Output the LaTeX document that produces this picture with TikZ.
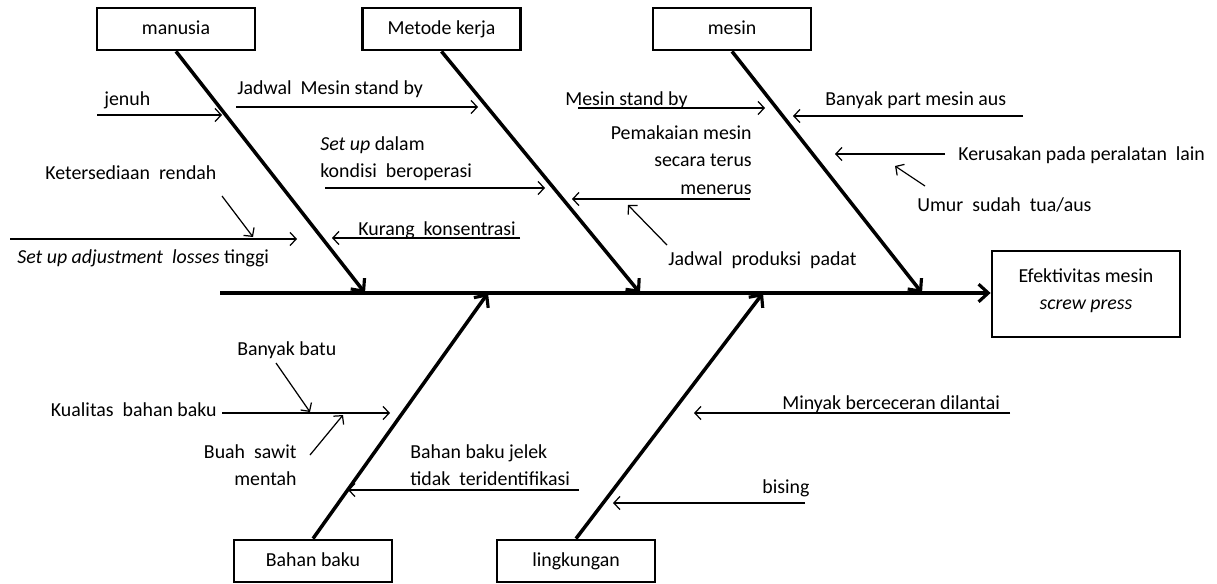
\documentclass[tikz,border=0pt]{standalone}
\usepackage{fontspec}
\setmainfont{Carlito}
\usetikzlibrary{arrows.meta}
\tikzset{
  cat/.style={draw=black,line width=1.6pt,minimum width=3.16cm,minimum height=0.84cm,inner sep=1pt,text height=1.6ex,text depth=.4ex},
  bone/.style={line width=2pt,-{Straight Barb[length=5.5pt,width=10pt,line width=1.8pt]}},
  twig/.style={line width=0.7pt,-{Straight Barb[length=3.5pt,width=7.5pt]}},
  lbl/.style={inner sep=0pt},
}
\begin{document}
\begin{tikzpicture}[every node/.style={font=\fontsize{11.3}{15.5}\selectfont}]
\useasboundingbox (0,0) rectangle (24.34,-11.66);
% Categories
\node[cat] (man) at (3.52,-0.58) {manusia};
\node[cat] (met) at (8.83,-0.58) {Metode kerja};
\node[cat] (msn) at (14.64,-0.58) {mesin};
\node[cat] (bhn) at (6.26,-11.22) {Bahan baku};
\node[cat] (lkg) at (11.52,-11.22) {lingkungan};
\node[cat,minimum width=3.76cm,minimum height=1.72cm] (eff) at (21.72,-5.88) {};
\node[lbl,align=center] (efft) at (21.72,-5.82) {Efektivitas mesin\\\textit{screw press}};
% Spine and bones
\coordinate (sp) at (4.40,-5.86);
\coordinate (eMan) at (7.30,-5.86);
\coordinate (eMet) at (12.80,-5.86);
\coordinate (eMsn) at (18.44,-5.86);
\coordinate (eBhn) at (9.76,-5.86);
\coordinate (eLkg) at (15.26,-5.86);
\draw[bone] (sp) -- (sp -| eff.west);
\draw[bone] (man.south) -- (eMan);
\draw[bone] (met.south) -- (eMet);
\draw[bone] (msn.south) -- (eMsn);
\draw[bone] (bhn.north) -- (eBhn);
\draw[bone] (lkg.north) -- (eLkg);
% manusia
\node[lbl,anchor=west] (t1) at (2.08,-2.00) {jenuh};
\coordinate (a1) at (1.94,-2.30); \coordinate (b1) at (4.44,-2.30);
\draw[twig] (a1) -- (b1);
\node[lbl,anchor=west] (t2) at (0.90,-3.46) {Ketersediaan\ \ rendah};
\coordinate (a2) at (4.44,-3.92); \coordinate (b2) at (5.06,-4.74);
\draw[twig] (a2) -- (b2);
\node[lbl,anchor=west] (t3) at (0.34,-5.16) {\textit{Set up adjustment\ \ losses} tinggi};
\coordinate (a3) at (0.20,-4.78); \coordinate (b3) at (5.94,-4.78);
\draw[twig] (a3) -- (b3);
% Metode kerja
\node[lbl,anchor=west] (t4) at (4.74,-1.78) {Jadwal\ \ Mesin stand by};
\coordinate (a4) at (4.72,-2.14); \coordinate (b4) at (9.56,-2.14);
\draw[twig] (a4) -- (b4);
\node[lbl,anchor=west,align=left] (t5) at (6.40,-3.17) {\textit{Set up} dalam\\kondisi\ \ beroperasi};
\coordinate (a5) at (6.50,-3.76); \coordinate (b5) at (10.90,-3.76);
\draw[twig] (a5) -- (b5);
\node[lbl,anchor=west] (t6) at (7.16,-4.60) {Kurang\ \ konsentrasi};
\coordinate (a6) at (10.40,-4.76); \coordinate (b6) at (6.64,-4.76);
\draw[twig] (a6) -- (b6);
% mesin
\node[lbl,anchor=west] (t7) at (11.30,-2.00) {Mesin stand by};
\coordinate (a7) at (11.56,-2.16); \coordinate (b7) at (15.30,-2.16);
\draw[twig] (a7) -- (b7);
\node[lbl,anchor=east,align=right] (t8) at (15.04,-3.20) {Pemakaian mesin\\secara terus\\menerus};
\coordinate (a8) at (15.00,-3.98); \coordinate (b8) at (11.44,-3.98);
\draw[twig] (a8) -- (b8);
\node[lbl,anchor=west] (t9) at (13.36,-5.20) {Jadwal\ \ produksi\ \ padat};
\coordinate (a9) at (13.34,-4.90); \coordinate (b9) at (12.56,-4.10);
\draw[twig] (a9) -- (b9);
\node[lbl,anchor=west] (t10) at (16.50,-2.00) {Banyak part mesin aus};
\coordinate (a10) at (20.46,-2.32); \coordinate (b10) at (15.86,-2.32);
\draw[twig] (a10) -- (b10);
\node[lbl,anchor=west] (t11) at (19.16,-3.10) {Kerusakan pada peralatan\ \ lain};
\coordinate (a11) at (18.90,-3.08); \coordinate (b11) at (16.70,-3.08);
\draw[twig] (a11) -- (b11);
\node[lbl,anchor=west] (t12) at (18.34,-4.10) {Umur\ \ sudah\ \ tua/aus};
\coordinate (a12) at (18.50,-3.72); \coordinate (b12) at (17.90,-3.32);
\draw[twig] (a12) -- (b12);
% Bahan baku
\node[lbl,anchor=west] (t13) at (4.74,-7.00) {Banyak batu};
\coordinate (a13) at (5.52,-7.26); \coordinate (b13) at (6.20,-8.24);
\draw[twig] (a13) -- (b13);
\node[lbl,anchor=east] (t14) at (4.34,-8.20) {Kualitas\ \ bahan baku};
\coordinate (a14) at (4.44,-8.26); \coordinate (b14) at (7.80,-8.26);
\draw[twig] (a14) -- (b14);
\node[lbl,anchor=east,align=right] (t15) at (5.94,-9.30) {Buah\ \ sawit\\mentah};
\coordinate (a15) at (6.20,-9.10); \coordinate (b15) at (6.86,-8.30);
\draw[twig] (a15) -- (b15);
\node[lbl,anchor=west,align=left] (t16) at (8.20,-9.30) {Bahan baku jelek\\tidak\ \ teridentifikasi};
\coordinate (a16) at (11.58,-9.80); \coordinate (b16) at (6.96,-9.80);
\draw[twig] (a16) -- (b16);
% lingkungan
\node[lbl,anchor=west] (t17) at (15.64,-8.08) {Minyak berceceran dilantai};
\coordinate (a17) at (20.20,-8.26); \coordinate (b17) at (13.88,-8.26);
\draw[twig] (a17) -- (b17);
\node[lbl,anchor=west] (t18) at (15.24,-9.76) {bising};
\coordinate (a18) at (16.10,-10.06); \coordinate (b18) at (12.26,-10.06);
\draw[twig] (a18) -- (b18);
\end{tikzpicture}
\end{document}
